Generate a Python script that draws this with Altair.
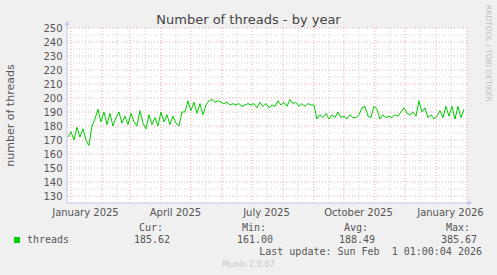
import altair as alt
import pandas as pd

# ---- data ----
threads = [172, 176, 170, 179, 172, 178, 170, 166, 180, 185,
           192, 183, 190, 181, 189, 180, 186, 190, 182, 187,
           181, 189, 183, 180, 191, 182, 178, 188, 181, 186,
           180, 190, 183, 188, 181, 187, 182, 180, 190, 190,
           198, 191, 197, 189, 196, 188, 195, 198, 199, 197,
           198, 197, 196, 197, 195, 196, 195, 196, 194, 195,
           196, 195, 196, 193, 197, 194, 196, 193, 195, 194,
           198, 195, 197, 194, 199, 196, 197, 194, 196, 194,
           196, 195, 195, 185, 188, 186, 189, 185, 188, 186,
           190, 186, 187, 185, 188, 186, 186, 188, 193, 194,
           187, 186, 194, 192, 185, 188, 186, 187, 186, 188,
           187, 190, 193, 189, 188, 190, 187, 198, 190, 193,
           186, 188, 185, 187, 191, 186, 194, 187, 194, 185,
           194, 186, 192]
dates = pd.date_range("2024-12-29", periods=len(threads), freq="3D")

x_start = "2024-12-28T01:00:00"
x_end = "2026-02-01T01:00:00"
y_min, y_max = 125, 250

y_major = list(range(130, 251, 10))
y_minor = list(range(135, 250, 10))
month_starts = pd.date_range("2025-01-01", "2026-02-01", freq="MS")
mid_months = [d + pd.Timedelta(days=15) for d in pd.date_range("2025-01-01", "2026-01-01", freq="MS")]
x_label_dates = [alt.DateTime(year=2025, month=1, date=15),
                 alt.DateTime(year=2025, month=4, date=15),
                 alt.DateTime(year=2025, month=7, date=15),
                 alt.DateTime(year=2025, month=10, date=15),
                 alt.DateTime(year=2026, month=1, date=15)]

title_text = "Number of threads - by year"
y_title = "number of threads"
series_name = "threads"
stat_names = ["Cur:", "Min:", "Avg:", "Max:"]
stat_values = ["185.62", "161.00", "188.49", "385.67"]
last_update = "Last update: Sun Feb\u00a0 1 01:00:04 2026"
footer = "Munin 2.0.67"
side_text = "RRDTOOL / TOBI OETIKER"

# ---- chart ----
W, H = 400, 175
OX, OY = 67, 28  # plot origin in page pixels

xscale = alt.Scale(domain=[x_start, x_end], nice=False)
yscale = alt.Scale(domain=[y_min, y_max], nice=False, zero=False)

x_axis = alt.Axis(values=x_label_dates, format="%B %Y", title=None,
                  grid=False, ticks=False, domain=False,
                  labelPadding=4, labelFontSize=10, labelColor="#555555",
                  labelFont="DejaVu Sans", labelOverlap=False)
y_axis = alt.Axis(values=y_major, title=None, grid=False, ticks=False,
                  domain=False, labelPadding=5, labelFontSize=10,
                  labelColor="#555555", labelFont="DejaVu Sans")

df = pd.DataFrame({"date": dates, "value": threads})

minor_col = "#d2d2d2"
major_col = "#eeaaaa"
dash = [1, 2]

hgrid_minor = alt.Chart(pd.DataFrame({"v": y_minor})).mark_rule(
    color=minor_col, strokeDash=dash, strokeWidth=1).encode(
    y=alt.Y("v:Q", scale=yscale, axis=y_axis))
hgrid_major = alt.Chart(pd.DataFrame({"v": y_major})).mark_rule(
    color=major_col, strokeDash=dash, strokeWidth=1).encode(
    y=alt.Y("v:Q", scale=yscale, axis=y_axis))
vgrid_minor = alt.Chart(pd.DataFrame({"d": mid_months})).mark_rule(
    color=minor_col, strokeDash=dash, strokeWidth=1).encode(
    x=alt.X("d:T", scale=xscale, axis=x_axis))
vgrid_major = alt.Chart(pd.DataFrame({"d": month_starts})).mark_rule(
    color=major_col, strokeDash=dash, strokeWidth=1).encode(
    x=alt.X("d:T", scale=xscale, axis=x_axis))

line = alt.Chart(df).mark_line(color="#00cc00", strokeWidth=1).encode(
    x=alt.X("date:T", scale=xscale, axis=x_axis),
    y=alt.Y("value:Q", scale=yscale, axis=y_axis),
)

axis_col = "#c4c4f0"
left_axis = alt.Chart(pd.DataFrame({"a": [0]})).mark_rule(color=axis_col, strokeWidth=1).encode(
    x=alt.value(0), y=alt.value(H), y2=alt.value(-4))
bottom_axis = alt.Chart(pd.DataFrame({"a": [0]})).mark_rule(color=axis_col, strokeWidth=1).encode(
    x=alt.value(0), x2=alt.value(W + 2), y=alt.value(H))
up_arrow = alt.Chart(pd.DataFrame({"a": [0]})).mark_point(
    shape="triangle-up", filled=True, color=axis_col, size=25, opacity=1).encode(
    x=alt.value(0), y=alt.value(-5))
right_arrow = alt.Chart(pd.DataFrame({"a": [0]})).mark_point(
    shape="triangle-right", filled=True, color=axis_col, size=25, opacity=1).encode(
    x=alt.value(W + 3), y=alt.value(H))


def txt(s, x, y, size=10, font="DejaVu Sans", color="#555555", align="left",
        baseline="alphabetic", angle=0):
    kw = dict(fontSize=size, font=font, color=color, align=align, baseline=baseline)
    if angle:
        kw["angle"] = angle
    return alt.Chart(pd.DataFrame({"t": [s]})).mark_text(**kw).encode(
        text="t:N", x=alt.value(x - OX), y=alt.value(y - OY))


mono = "DejaVu Sans Mono"
texts = [
    txt(title_text, 248.5, 24, size=13, color="#444444", align="center"),
    txt(y_title, 10.5, 115.5, size=11, align="center", baseline="middle", angle=270),
    txt(side_text, 488, 5, size=7.5, color="#c0c0c0", align="left", baseline="middle", angle=90),
    txt(series_name, 27, 243, font=mono),
    txt(last_update, 482, 255, font=mono, align="right"),
    txt(footer, 248.5, 267, size=8, color="#c8c8c8", align="center"),
]
hdr_x = [163, 266, 368, 470]
val_x = [170, 273, 375, 477]
for n, v, hx, vx in zip(stat_names, stat_values, hdr_x, val_x):
    texts.append(txt(n, hx, 231, font=mono, align="right"))
    texts.append(txt(v, vx, 243, font=mono, align="right"))

swatch = alt.Chart(pd.DataFrame({"a": [0]})).mark_rect(color="#00cc00").encode(
    x=alt.value(14 - OX), x2=alt.value(20 - OX), y=alt.value(237 - OY), y2=alt.value(243 - OY))

chart = alt.layer(
    hgrid_minor, vgrid_minor, hgrid_major, vgrid_major, line,
    left_axis, bottom_axis, up_arrow, right_arrow, swatch, *texts
).resolve_scale(x="shared", y="shared").properties(
    width=W, height=H,
    autosize=alt.AutoSizeParams(type="none"),
    padding={"left": OX, "top": OY, "right": 497 - OX - W, "bottom": 275 - OY - H},
    background="#f0f0f0",
).configure_view(fill="white", stroke=None)

chart.save("out.html", embed_options={"renderer": "svg", "actions": False})
